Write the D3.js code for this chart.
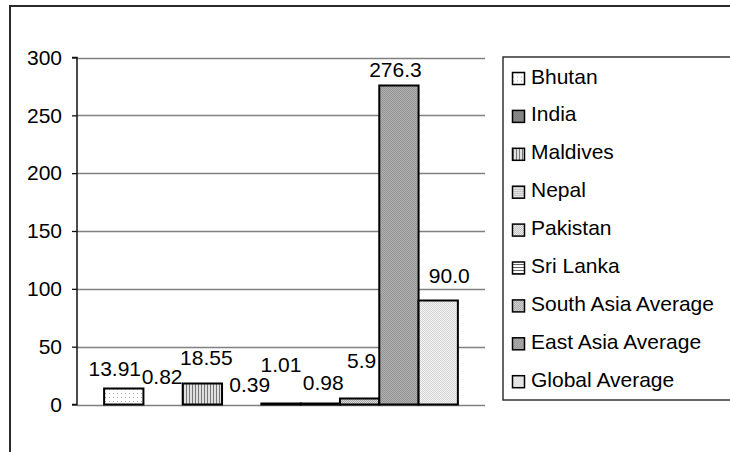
<!DOCTYPE html>
<html>
<head>
<meta charset="utf-8">
<script src="https://cdn.jsdelivr.net/npm/d3@7"></script>
<style>
  html, body { margin: 0; padding: 0; background: #fff; }
  svg { display: block; font-family: "Liberation Sans", Arial, sans-serif; }
</style>
</head>
<body>
<svg id="chart" width="730" height="452"></svg>
<script>
// ---- data ----
const seriesNames = ["Bhutan", "India", "Maldives", "Nepal", "Pakistan", "Sri Lanka",
  "South Asia Average", "East Asia Average", "Global Average"];
const seriesValues = [13.91, 0.82, 18.55, 0.39, 1.01, 0.98, 5.9, 276.3, 90.0];
const labelTexts = ["13.91", "0.82", "18.55", "0.39", "1.01", "0.98", "5.9", "276.3", "90.0"];
const yTicks = [0, 50, 100, 150, 200, 250, 300];

// ---- layout (label nudges as seen in the reference) ----
const labelDx = [-9, -1, 4, 8, 0, 3, 2, -3.5, 11];
const labelRise = [12.5, 19.5, 18, 12, 31, 13.5, 30, 7.5, 17.5];
const patternIds = ["pBhutan", "pIndia", "pMaldives", "pNepal", "pPakistan", "pSriLanka",
  "pSouth", "pEast", "pGlobal"];
const FS = 21;

const svg = d3.select("#chart");
const defs = svg.append("defs");

function checker(id, a, b) {
  const p = defs.append("pattern").attr("id", id).attr("patternUnits", "userSpaceOnUse")
    .attr("width", 2).attr("height", 2);
  p.append("rect").attr("width", 2).attr("height", 2).attr("fill", a);
  p.append("rect").attr("width", 1).attr("height", 1).attr("fill", b);
  p.append("rect").attr("x", 1).attr("y", 1).attr("width", 1).attr("height", 1).attr("fill", b);
}
// Bhutan: sparse dots
{
  const p = defs.append("pattern").attr("id", "pBhutan").attr("patternUnits", "userSpaceOnUse")
    .attr("width", 4).attr("height", 4);
  p.append("rect").attr("width", 4).attr("height", 4).attr("fill", "#fff");
  p.append("rect").attr("x", 1).attr("y", 1).attr("width", 1).attr("height", 1).attr("fill", "#aaa");
}
checker("pIndia", "#6e6e6e", "#9a9a9a");
// Maldives: vertical stripes
{
  const p = defs.append("pattern").attr("id", "pMaldives").attr("patternUnits", "userSpaceOnUse")
    .attr("width", 3).attr("height", 3);
  p.append("rect").attr("width", 3).attr("height", 3).attr("fill", "#e0e0e0");
  p.append("rect").attr("width", 1).attr("height", 3).attr("fill", "#777");
}
// Nepal: fine horizontal lines
{
  const p = defs.append("pattern").attr("id", "pNepal").attr("patternUnits", "userSpaceOnUse")
    .attr("width", 2).attr("height", 2);
  p.append("rect").attr("width", 2).attr("height", 2).attr("fill", "#eee");
  p.append("rect").attr("width", 2).attr("height", 1).attr("fill", "#bbb");
}
checker("pPakistan", "#f2f2f2", "#bdbdbd");
// Sri Lanka: horizontal lines
{
  const p = defs.append("pattern").attr("id", "pSriLanka").attr("patternUnits", "userSpaceOnUse")
    .attr("width", 3).attr("height", 3);
  p.append("rect").attr("width", 3).attr("height", 3).attr("fill", "#fff");
  p.append("rect").attr("width", 3).attr("height", 1).attr("fill", "#666");
}
checker("pSouth", "#d6d6d6", "#a8a8a8");
checker("pEast", "#b0b0b0", "#949494");
checker("pGlobal", "#f4f4f4", "#d4d4d4");

// outer frame
svg.append("rect").attr("x", 10).attr("y", 6).attr("width", 800).attr("height", 800)
  .attr("fill", "none").attr("stroke", "#2a2a2a").attr("stroke-width", 2);

const plotLeft = 77, plotRight = 485, plotTop = 57.5, plotBottom = 404.5;

const x = d3.scaleBand().domain(seriesNames).range([plotLeft, plotRight])
  .paddingInner(0).paddingOuter(0.69);
const y = d3.scaleLinear().domain([0, 300]).range([plotBottom, plotTop]);

// gridlines
svg.append("g").selectAll("line").data(yTicks).join("line")
  .attr("x1", plotLeft).attr("x2", plotRight)
  .attr("y1", d => Math.round(y(d)) + 0.5).attr("y2", d => Math.round(y(d)) + 0.5)
  .attr("stroke", "#808080").attr("stroke-width", 1.3);

// bars
const bars = seriesNames.map((n, i) => ({ name: n, value: seriesValues[i], i }));
svg.append("g").selectAll("rect").data(bars.filter(d => Math.floor(y(0) - y(d.value)) > 0)).join("rect")
  .attr("x", d => x(d.name))
  .attr("width", x.bandwidth())
  .attr("y", d => y(0) - Math.floor(y(0) - y(d.value)))
  .attr("height", d => Math.floor(y(0) - y(d.value)))
  .attr("fill", d => `url(#${patternIds[d.i]})`)
  .attr("stroke", "#000").attr("stroke-width", 2);

// y axis
const yAxis = d3.axisLeft(y).tickValues(yTicks).tickSize(5).tickPadding(10).tickFormat(d3.format("d"));
const ag = svg.append("g").attr("transform", `translate(${plotLeft},0)`).call(yAxis);
ag.select(".domain").attr("stroke", "#111").attr("stroke-width", 1.5).attr("d", `M-5,${plotTop}H0V${plotBottom}H-5`);
ag.selectAll(".tick line").attr("stroke", "#111").attr("stroke-width", 1.3);
ag.selectAll(".tick text").attr("font-size", FS).attr("fill", "#000")
  .attr("font-family", "'Liberation Sans', Arial, sans-serif");

// data labels
svg.append("g").selectAll("text").data(bars).join("text")
  .attr("x", d => x(d.name) + x.bandwidth() / 2 + labelDx[d.i])
  .attr("y", d => y(d.value) - labelRise[d.i])
  .attr("text-anchor", "middle")
  .attr("font-size", FS).attr("fill", "#000")
  .text(d => labelTexts[d.i]);

// legend
const lg = svg.append("g");
lg.append("rect").attr("x", 503).attr("y", 57).attr("width", 260).attr("height", 343)
  .attr("fill", "#fff").attr("stroke", "#333").attr("stroke-width", 1.5);
const rowStep = 37.9, firstBase = 83.5;
const rows = lg.selectAll("g.row").data(bars).join("g").attr("class", "row")
  .attr("transform", d => `translate(0,${firstBase + d.i * rowStep})`);
rows.append("rect").attr("x", 512.5).attr("y", -11).attr("width", 12).attr("height", 12)
  .attr("fill", d => `url(#${patternIds[d.i]})`).attr("stroke", "#000").attr("stroke-width", 1.5);
rows.append("text").attr("x", 531).attr("y", 0).attr("font-size", FS).attr("fill", "#000")
  .text(d => d.name);
</script>
</body>
</html>
